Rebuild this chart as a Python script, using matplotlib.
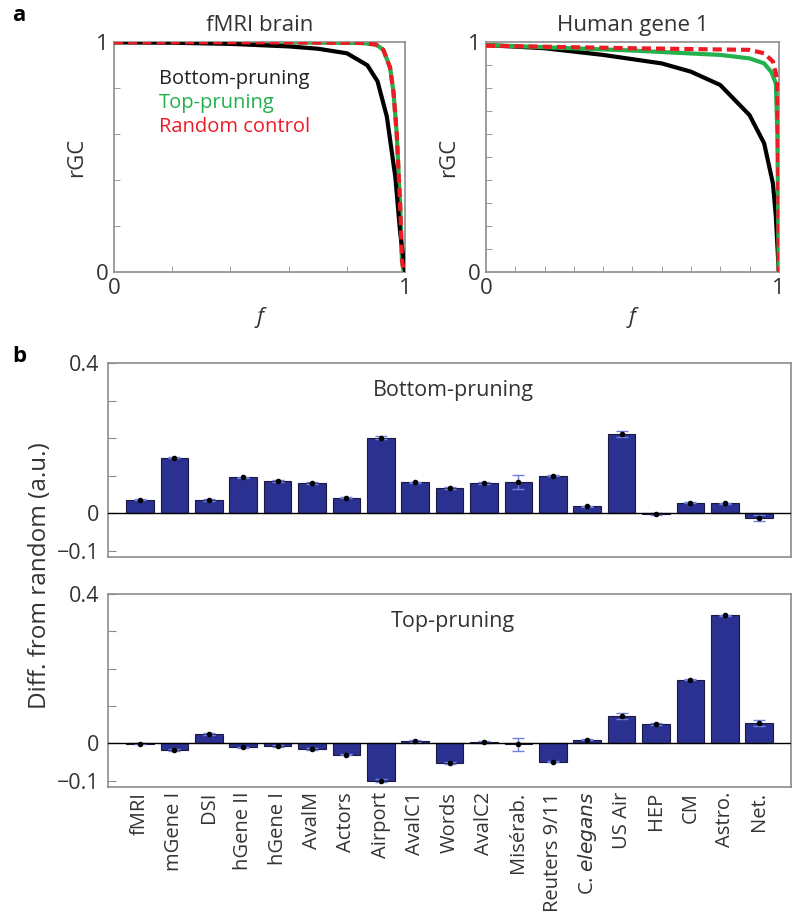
import numpy as np
import matplotlib
matplotlib.use('Agg')
import matplotlib.pyplot as plt

plt.rcParams['font.family'] = ['Open Sans', 'DejaVu Sans']

## panel a data
f_fmri_bot = [0.0, 0.2, 0.4, 0.6, 0.7, 0.8, 0.87, 0.905, 0.937, 0.966, 0.983, 0.995, 1.0]
r_fmri_bot = [1.0, 0.998, 0.993, 0.982, 0.972, 0.952, 0.9, 0.83, 0.676, 0.414, 0.167, 0.05, 0.0]
f_fmri_top = [0.0, 0.5, 0.85, 0.9, 0.925, 0.948, 0.96, 0.971, 0.983, 0.989, 0.995]
r_fmri_top = [1.0, 1.0, 0.997, 0.99, 0.967, 0.89, 0.78, 0.6, 0.28, 0.05, 0.0]
f_fmri_rnd = [0.0, 0.5, 0.85, 0.9, 0.925, 0.948, 0.96, 0.971, 0.983, 0.989, 0.995]
r_fmri_rnd = [1.0, 1.0, 0.997, 0.99, 0.967, 0.89, 0.78, 0.6, 0.28, 0.05, 0.0]

f_hg_bot = [0.0, 0.2, 0.4, 0.6, 0.7, 0.8, 0.9, 0.95, 0.98, 0.99, 1.0]
r_hg_bot = [0.988, 0.974, 0.945, 0.908, 0.872, 0.814, 0.683, 0.56, 0.385, 0.24, 0.0]
f_hg_top = [0.0, 0.5, 0.8, 0.9, 0.95, 0.975, 0.99, 0.995, 1.0]
r_hg_top = [0.988, 0.964, 0.945, 0.93, 0.908, 0.87, 0.82, 0.6, 0.0]
f_hg_rnd = [0.0, 0.5, 0.9, 0.95, 0.98, 0.99, 0.995, 0.998, 1.0]
r_hg_rnd = [0.985, 0.974, 0.967, 0.952, 0.916, 0.865, 0.81, 0.46, 0.0]

## panel b data
names = ['fMRI', 'mGene I', 'DSI', 'hGene II', 'hGene I', 'AvalM', 'Actors', 'Airport',
         'AvalC1', 'Words', 'AvalC2', 'Misérab.', 'Reuters 9/11', r'C. $\it{elegans}$',
         'US Air', 'HEP', 'CM', 'Astro.', 'Net.']
bottom_vals = [0.036, 0.148, 0.035, 0.095, 0.085, 0.080, 0.041, 0.201, 0.082, 0.067,
               0.080, 0.083, 0.100, 0.018, 0.212, -0.002, 0.028, 0.026, -0.013]
bottom_err = [0.001, 0.002, 0.002, 0.002, 0.002, 0.003, 0.002, 0.004, 0.002, 0.002,
              0.002, 0.018, 0.002, 0.002, 0.008, 0.002, 0.002, 0.002, 0.008]
top_vals = [-0.001, -0.018, 0.025, -0.011, -0.007, -0.015, -0.030, -0.100, 0.006, -0.053,
            0.003, -0.003, -0.049, 0.010, 0.073, 0.052, 0.171, 0.343, 0.055]
top_err = [0.001, 0.002, 0.002, 0.002, 0.002, 0.003, 0.002, 0.004, 0.002, 0.002,
           0.002, 0.018, 0.002, 0.002, 0.007, 0.002, 0.002, 0.002, 0.008]

txt = '#333333'
frame = '#8c8c8c'
green = '#22b14c'
red = '#ed1c24'
navy = '#2b3190'
errc = '#7080e0'

fig = plt.figure(figsize=(8, 9.19), dpi=100)

def style_line_ax(ax, title, nminor):
    ax.set_xlim(0, 1)
    ax.set_ylim(0, 1)
    ax.set_xticks([0, 1])
    ax.set_yticks([0, 1])
    ax.set_xticks(np.linspace(0, 1, nminor + 1)[1:-1], minor=True)
    ax.set_yticks(np.linspace(0, 1, nminor + 1)[1:-1], minor=True)
    ax.tick_params(which='both', direction='in', colors=frame, labelcolor=txt,
                   labelsize=16, top=False, right=False)
    ax.tick_params(which='major', length=0, pad=4)
    ax.tick_params(which='minor', length=4)
    for s in ax.spines.values():
        s.set_color(frame)
        s.set_linewidth(1.2)
    ax.set_title(title, fontsize=16, color=txt, pad=8)
    ax.set_ylabel('rGC', fontsize=16, color=txt, labelpad=6)
    ax.set_xlabel('f', fontsize=16, color=txt, style='italic', labelpad=6)

ax1 = fig.add_axes([0.1425, 0.704, 0.364, 0.250])
ax1.plot(f_fmri_top, r_fmri_top, color=green, lw=3, zorder=2)
ax1.plot(f_fmri_bot, r_fmri_bot, color='black', lw=3, zorder=3)
ax1.plot(f_fmri_rnd, r_fmri_rnd, color=red, lw=3, ls=(0, (2.2, 1.2)), zorder=4)
style_line_ax(ax1, 'fMRI brain', 5)
ax1.text(0.155, 0.82, 'Bottom-pruning', color='#222222', fontsize=14.5, transform=ax1.transAxes)
ax1.text(0.155, 0.715, 'Top-pruning', color=green, fontsize=14.5, transform=ax1.transAxes)
ax1.text(0.155, 0.61, 'Random control', color=red, fontsize=14.5, transform=ax1.transAxes)

ax2 = fig.add_axes([0.6075, 0.704, 0.366, 0.250])
ax2.plot(f_hg_bot, r_hg_bot, color='black', lw=3, zorder=2)
ax2.plot(f_hg_top, r_hg_top, color=green, lw=3, zorder=3)
ax2.plot(f_hg_rnd, r_hg_rnd, color=red, lw=3, ls=(0, (2.2, 1.2)), zorder=4)
style_line_ax(ax2, 'Human gene 1', 10)

def bar_ax(ax, vals, errs, label, show_names):
    x = np.arange(len(vals))
    ax.bar(x, vals, width=0.8, color=navy, edgecolor='#1a1a40', linewidth=0.8, zorder=2)
    ax.errorbar(x, vals, yerr=errs, fmt='none', ecolor=errc, elinewidth=1, capsize=4, zorder=3)
    ax.plot(x, vals, 'o', color='black', ms=3, zorder=4)
    ax.axhline(0, color='black', lw=1, zorder=3)
    ax.set_xlim(-0.93, len(vals) - 0.07)
    ax.set_ylim(-0.117, 0.4)
    ax.set_yticks([-0.1, 0, 0.1, 0.2, 0.3, 0.4])
    ax.set_yticklabels(['\u22120.1', '0', '', '', '', '0.4'])
    ax.tick_params(axis='y', direction='in', length=6, colors=frame, labelcolor=txt,
                   labelsize=15.5, pad=6)
    ax.tick_params(axis='x', length=0)
    if show_names:
        ax.set_xticks(x)
        ax.set_xticklabels(names, rotation=90, fontsize=14.5, color=txt)
    else:
        ax.set_xticks([])
    for s in ax.spines.values():
        s.set_color(frame)
        s.set_linewidth(1.2)
    ax.text(0.505, 0.86, label, transform=ax.transAxes, ha='center', va='center',
            fontsize=15.5, color=txt)

ax3 = fig.add_axes([0.135, 0.394, 0.854, 0.211])
bar_ax(ax3, bottom_vals, bottom_err, 'Bottom-pruning', False)

ax4 = fig.add_axes([0.135, 0.1436, 0.854, 0.210])
bar_ax(ax4, top_vals, top_err, 'Top-pruning', True)

fig.text(0.05, 0.374, 'Diff. from random (a.u.)', rotation=90, ha='center', va='center',
         fontsize=17.5, color=txt)
fig.text(0.015, 0.983, 'a', fontsize=16, fontweight='bold', va='center')
fig.text(0.015, 0.612, 'b', fontsize=16, fontweight='bold', va='center')

fig.savefig('out.png', dpi=100, facecolor='white')
